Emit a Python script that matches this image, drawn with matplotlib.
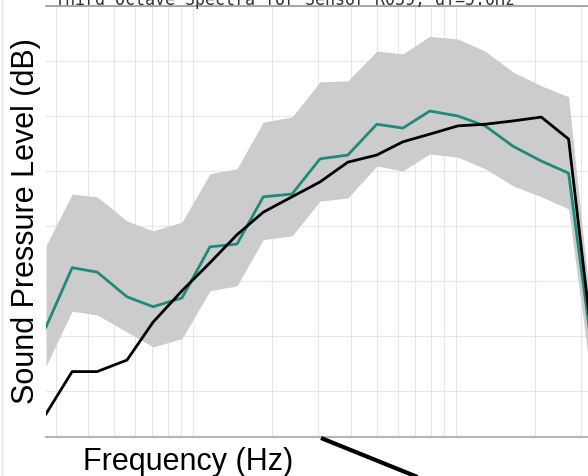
import matplotlib.pyplot as plt
from matplotlib.lines import Line2D
import numpy as np

# band centre frequencies (Hz)
freqs = [27.6, 34.7, 43.2, 56.1, 70.5, 90.8, 116, 147, 185, 238, 304,
         388, 500, 628, 795, 1017, 1291, 1647, 2111, 2680, 3380]

# measured spectrum (teal)
measured = [41.6, 52.4, 51.6, 47.1, 45.3, 46.9, 56.2, 56.7, 65.3, 65.8, 72.2,
            72.9, 78.5, 77.8, 80.9, 80.0, 78.2, 74.5, 71.8, 69.6, 33.3]

# model spectrum (black)
model = [25.8, 33.5, 33.5, 35.6, 42.5, 48.2, 53.3, 58.4, 62.5, 65.3, 68.0,
         71.6, 72.9, 75.3, 76.7, 78.2, 78.5, 79.1, 79.8, 75.8, 34.5]

# spread of the spectra (grey band)
band_upper = [56.4, 65.8, 65.3, 60.9, 59.1, 60.7, 69.5, 70.4, 78.9, 79.8, 86.2,
              86.4, 91.8, 91.3, 94.5, 94.0, 91.8, 88.0, 85.5, 83.5, 37.6]
band_lower = [34.5, 44.5, 43.8, 40.7, 38.0, 39.5, 48.2, 49.1, 57.5, 58.2, 64.5,
              65.1, 70.9, 70.0, 73.1, 72.5, 70.4, 67.3, 65.3, 63.1, 26.7]

W, H = 588, 477


def main():
    fig = plt.figure(figsize=(W / 100, H / 100), dpi=100)
    ax = fig.add_axes([46 / W, (H - 438) / H, 542 / W, (438 - 6.5) / H])

    ax.fill_between(freqs, band_lower, band_upper, color='#cccccc', lw=0, zorder=1)
    ax.plot(freqs, measured, color='#1f8a7c', lw=2, zorder=3)
    ax.plot(freqs, model, color='black', lw=2, zorder=4)

    ax.set_xscale('log')
    ax.set_xlim(27.6, 3177)
    ax.set_ylim(21.6, 100.1)
    ax.set_yticks(np.arange(30, 101, 10))

    ax.grid(True, which='both', color='#e6e6e6', lw=0.8, zorder=0)
    ax.set_axisbelow(True)
    ax.tick_params(which='both', length=0, labelbottom=False, labelleft=False)

    for s in ['left', 'right']:
        ax.spines[s].set_visible(False)
    ax.spines['bottom'].set_color('#b5b5b5')
    ax.spines['bottom'].set_linewidth(1.5)
    ax.spines['top'].set_color('#9a9a9a')
    ax.spines['top'].set_linewidth(1.2)

    # title, mostly cut off by the top edge
    fig.text(55 / W, 1 - 5 / H, "Third Octave Spectra for Sensor R039, dT=5.0Hz",
             family='DejaVu Sans Mono', fontsize=12, color='#333333',
             ha='left', va='baseline')

    fig.text(83 / W, (H - 470) / H, "Frequency (Hz)", family='Liberation Sans',
             fontsize=22, ha='left', va='baseline')
    fig.text(34 / W, 1 - 221 / H, "Sound Pressure Level (dB)", family='Liberation Sans',
             fontsize=22, rotation=90, rotation_mode='anchor',
             ha='center', va='baseline')

    # pointer line and faint left border
    fig.add_artist(Line2D([321 / W, 420 / W], [1 - 439 / H, 1 - 479 / H],
                          color='black', lw=3, solid_capstyle='butt'))
    fig.add_artist(Line2D([2 / W, 2 / W], [0, 1], color='#dde3ea', lw=1))

    fig.savefig('out.png', dpi=100)


if __name__ == "__main__":
    main()
